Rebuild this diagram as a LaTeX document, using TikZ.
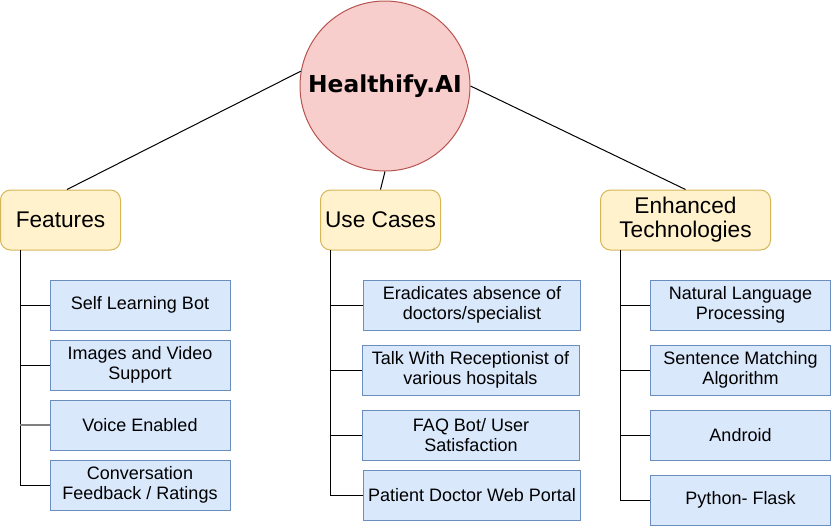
\documentclass[tikz,border=0pt]{standalone}
\usepackage{fontspec}
\usepackage{tikz}
\setmainfont{Liberation Sans}
\newfontfamily\hubfont{DejaVu Sans}
\definecolor{hubfill}{HTML}{F8CECC}
\definecolor{hubline}{HTML}{B85450}
\definecolor{topicfill}{HTML}{FFF2CC}
\definecolor{topicline}{HTML}{D6B656}
\definecolor{leaffill}{HTML}{DAE8FC}
\definecolor{leafline}{HTML}{6C8EBF}

\begin{document}
\begin{tikzpicture}[x=0.75pt, y=-0.75pt, line width=0.75pt]
		\tikzstyle{every node}=[align=center, inner sep=0pt]
		\tikzstyle{topic}=[draw=topicline, fill=topicfill, rounded corners=7.5pt, minimum height=45pt, font=\fontsize{17}{18}\selectfont]
		\tikzstyle{leaf}=[draw=leafline, fill=leaffill, minimum width=135pt, minimum height=37.5pt, font=\fontsize{13.5}{15}\selectfont]
		\tikzstyle{wideleaf}=[leaf, minimum width=162.75pt]
		\useasboundingbox (0,0) rectangle (831,526);

		\node[circle, draw=hubline, fill=hubfill, minimum size=127.5pt, font=\hubfont\bfseries\fontsize{17.5}{20}\selectfont] (hub) at (385,86) {Healthify.AI};

		\node[topic, minimum width=90pt] (feat) at (60.5,220) {Features};
		\node[topic, minimum width=90pt] (uses) at (380.5,220) {Use Cases};
		\node[topic, minimum width=127.5pt] (tech) at (685.5,220) {Enhanced\\Technologies};

		\draw (feat.78) -- (hub.170);
		\draw (uses.north) -- (hub.south);
		\draw (tech.north) -- (hub.east);

		\node[leaf] (f1) at (140,305) {Self Learning Bot};
		\node[leaf] (f2) at (140,365) {Images and Video\\Support};
		\node[leaf] (f3) at (140,425) {Voice Enabled};
		\node[leaf] (f4) at (140,485) {Conversation\\Feedback / Ratings};

		\node[wideleaf] (u1) at (472,305) {Eradicates absence of\\doctors/specialist};
		\node[wideleaf] (u2) at (470.5,370) {Talk With Receptionist of\\various hospitals};
		\node[wideleaf] (u3) at (471,435) {FAQ Bot/ User\\Satisfaction};
		\node[wideleaf] (u4) at (472,495) {Patient Doctor Web Portal};

		\node[leaf] (t1) at (740.5,305) {Natural Language\\Processing};
		\node[leaf] (t2) at (740.5,370) {Sentence Matching\\Algorithm};
		\node[leaf] (t3) at (740.5,435) {Android};
		\node[leaf] (t4) at (740.5,500) {Python- Flask};

		\coordinate (featRoot) at (20,250);
		\coordinate (usesRoot) at (330.5,250);
		\coordinate (techRoot) at (620.5,250);

		\foreach \leaf in {f1,f2,f3,f4} \draw (featRoot) |- (\leaf.west);
		\foreach \leaf in {u1,u2,u3,u4} \draw (usesRoot) |- (\leaf.west);
		\foreach \leaf in {t1,t2,t3,t4} \draw (techRoot) |- (\leaf.west);
		\draw[gray, line width=1.5pt] (featRoot |- f3.west) -- (f3.west);

	\end{tikzpicture}
\end{document}
